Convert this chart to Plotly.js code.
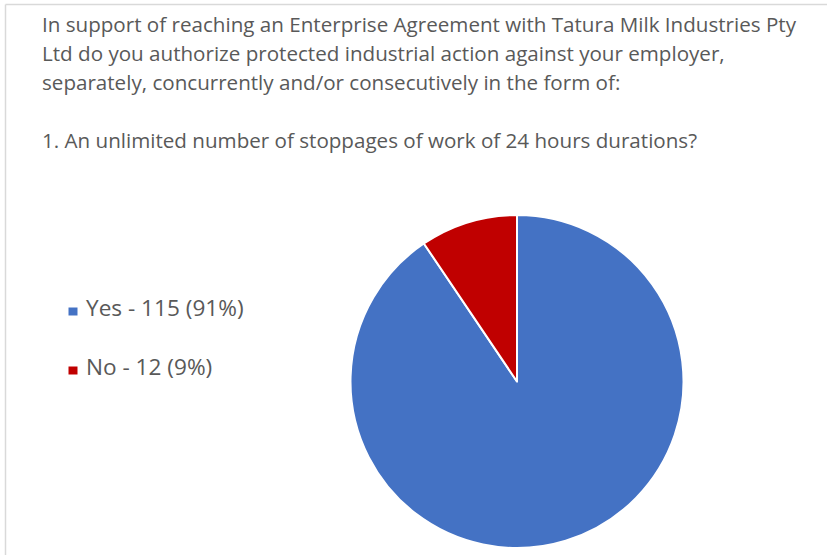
<!DOCTYPE html>
<html>
<head>
<meta charset="utf-8">
<script src="https://cdn.plot.ly/plotly-3.0.1.min.js"></script>
<style>html,body{margin:0;padding:0;background:#fff;}#chart{width:827px;height:555px;}</style>
</head>
<body>
<div id="chart"></div>
<script>
const labels = ["Yes", "No"];
const values = [115, 12];
const percents = ["91%", "9%"];
const colors = ["#4472C4", "#C00000"];
const titleLines = [
  "In support of reaching an Enterprise Agreement with Tatura Milk Industries Pty",
  "Ltd do you authorize protected industrial action against your employer,",
  "separately, concurrently and/or consecutively in the form of:",
  "",
  "1. An unlimited number of stoppages of work of 24 hours durations?"
];

const W = 827, H = 555;
const font = "'Open Sans', Carlito, Calibri, sans-serif";
const textColor = "#595959";

const annotations = [];
titleLines.forEach((t, i) => {
  if (!t) return;
  annotations.push({
    xref: "paper", yref: "paper", x: 40 / W, y: 1 - (24 + i * 29) / H,
    xanchor: "left", yanchor: "middle", text: t, showarrow: false,
    font: {family: font, size: 20.6, color: textColor}, align: "left"
  });
});
const shapes = [
  {type: "line", xref: "paper", yref: "paper", x0: 5.5 / W, x1: 5.5 / W, y0: 0, y1: 1 - 4.5 / H, line: {color: "#d9d9d9", width: 1.5}},
  {type: "line", xref: "paper", yref: "paper", x0: 5.5 / W, x1: 1, y0: 1 - 4.5 / H, y1: 1 - 4.5 / H, line: {color: "#d9d9d9", width: 1.5}}
];
labels.forEach((lab, i) => {
  const yc = 308 + i * 59;
  shapes.push({type: "rect", xref: "paper", yref: "paper",
    x0: 68.5 / W, x1: 77.5 / W, y0: 1 - (yc + 7.5) / H, y1: 1 - (yc - 0.5) / H,
    fillcolor: colors[i], line: {width: 0}});
  annotations.push({
    xref: "paper", yref: "paper", x: 84 / W, y: 1 - (yc - 1) / H,
    xanchor: "left", yanchor: "middle",
    text: lab + " - " + values[i] + " (" + percents[i] + ")", showarrow: false,
    font: {family: font, size: 22.6, color: textColor}
  });
});

const data = [{
  type: "pie",
  labels: labels,
  values: values,
  sort: false,
  direction: "clockwise",
  rotation: 0,
  textinfo: "none",
  hoverinfo: "label+value+percent",
  marker: {colors: colors, line: {color: "#ffffff", width: 2}},
  domain: {x: [350 / W, 684 / W], y: [1 - 548 / H, 1 - 215 / H]},
  showlegend: false
}];

const layout = {
  width: W, height: H,
  margin: {l: 0, r: 0, t: 0, b: 0},
  paper_bgcolor: "#ffffff",
  plot_bgcolor: "#ffffff",
  showlegend: false,
  annotations: annotations,
  shapes: shapes
};

Plotly.newPlot("chart", data, layout, {displayModeBar: false, staticPlot: true});
</script>
</body>
</html>
